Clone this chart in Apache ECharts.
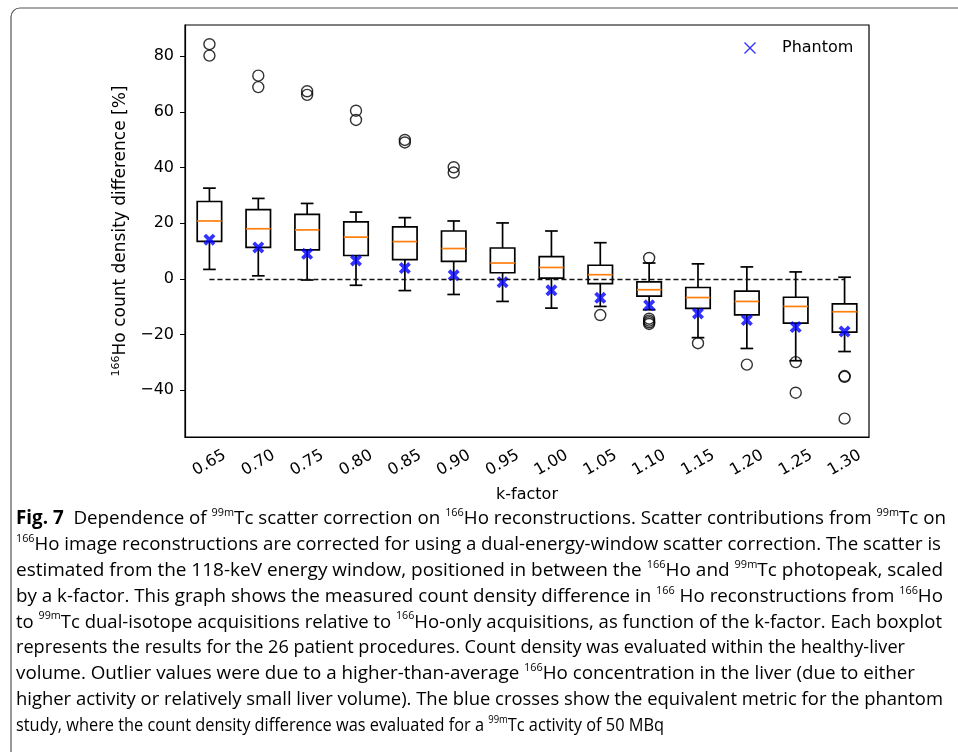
<!DOCTYPE html>
<html>
<head>
<meta charset="utf-8">
<script src="https://cdn.jsdelivr.net/npm/echarts@6/dist/echarts.min.js"></script>
<style>
  html, body { margin: 0; padding: 0; background: #fff; }
  #chart { width: 958px; height: 752px; }
</style>
</head>
<body>
<div id="chart"></div>
<script>
// k-factor categories
const categories = ['0.65', '0.70', '0.75', '0.80', '0.85', '0.90', '0.95',
  '1.00', '1.05', '1.10', '1.15', '1.20', '1.25', '1.30'];

// boxplot statistics (%)
const whiskerLow  = [3.4, 1.1, -0.4, -2.3, -4.2, -5.6, -8.1, -10.5, -9.9, -11.1, -21.1, -25.0, -29.4, -26.1];
const q1          = [13.5, 11.3, 10.4, 8.4, 6.9, 6.3, 2.2, 0.3, -1.7, -6.2, -10.6, -12.9, -15.9, -19.1];
const median      = [20.8, 18.0, 17.6, 15.0, 13.4, 10.9, 5.7, 4.1, 1.5, -3.9, -6.7, -8.1, -9.9, -11.8];
const q3          = [27.8, 24.9, 23.2, 20.5, 18.7, 17.2, 11.1, 8.0, 4.9, -1.1, -3.1, -4.4, -6.6, -9.0];
const whiskerHigh = [32.6, 28.9, 27.1, 24.0, 22.0, 20.8, 20.1, 17.2, 13.0, 5.7, 5.4, 4.3, 2.5, 0.6];

// outliers as [category index, value]
const outliers = [
  [0, 84.3], [0, 80.2], [1, 73.0], [1, 68.9], [2, 67.4], [2, 66.1],
  [3, 60.4], [3, 57.1], [4, 49.9], [4, 49.0], [5, 40.1], [5, 38.2],
  [8, -13.0], [9, 7.5], [9, -14.3], [9, -15.0], [9, -15.6], [9, -16.2],
  [10, -23.1], [11, -30.8], [12, -29.9], [12, -40.9],
  [13, -34.9], [13, -35.2], [13, -50.2]
];

// phantom study values (blue crosses)
const phantom = [14.1, 11.3, 9.0, 6.6, 3.9, 1.3, -1.2, -4.1, -6.8, -9.5, -12.4, -14.8, -17.3, -18.9];

const yTicks = [-40, -20, 0, 20, 40, 60, 80];

// X shapes drawn as filled paths (thick one for the marks, thin one for the legend)
const crossThick = 'path://M0,22L22,0L50,28L78,0L100,22L72,50L100,78L78,100L50,72L22,100L0,78L28,50Z';
const crossThin = 'path://M0,8L8,0L50,42L92,0L100,8L58,50L100,92L92,100L50,58L8,100L0,92L42,50Z';

const plotFont = 'DejaVu Sans';
const capFont = '"Open Sans", "Noto Sans", sans-serif';

const chart = echarts.init(document.getElementById('chart'));

// box + whiskers + caps + orange median, like matplotlib's boxplot
function renderBox(params, api) {
  const i = api.value(0);
  const band = api.size([1, 0])[0];
  const hw = band * 0.25, cw = band * 0.13;
  const pLow = api.coord([i, api.value(1)]);
  const pQ1 = api.coord([i, api.value(2)]);
  const pMed = api.coord([i, api.value(3)]);
  const pQ3 = api.coord([i, api.value(4)]);
  const pHigh = api.coord([i, api.value(5)]);
  const x = pMed[0];
  const ls = { stroke: '#000', lineWidth: 1.7, fill: null };
  return {
    type: 'group',
    children: [
      { type: 'line', shape: { x1: x, y1: pQ1[1], x2: x, y2: pLow[1] }, style: ls },
      { type: 'line', shape: { x1: x, y1: pQ3[1], x2: x, y2: pHigh[1] }, style: ls },
      { type: 'line', shape: { x1: x - cw, y1: pLow[1], x2: x + cw, y2: pLow[1] }, style: ls },
      { type: 'line', shape: { x1: x - cw, y1: pHigh[1], x2: x + cw, y2: pHigh[1] }, style: ls },
      { type: 'rect', shape: { x: x - hw, y: pQ3[1], width: hw * 2, height: pQ1[1] - pQ3[1] }, style: ls },
      { type: 'line', shape: { x1: x - hw, y1: pMed[1], x2: x + hw, y2: pMed[1] },
        style: { stroke: '#ff7f0e', lineWidth: 1.7 } }
    ]
  };
}

// caption lines: [style, text] pieces
const captionLines = [
  [['b', 'Fig. 7'], ['n', '  Dependence of '], ['s', '99m'], ['n', 'Tc scatter correction on '], ['s', '166'], ['n', 'Ho reconstructions. Scatter contributions from '], ['s', '99m'], ['n', 'Tc on']],
  [['s', '166'], ['n', 'Ho image reconstructions are corrected for using a dual-energy-window scatter correction. The scatter is']],
  [['n', 'estimated from the 118-keV energy window, positioned in between the '], ['s', '166'], ['n', 'Ho and '], ['s', '99m'], ['n', 'Tc photopeak, scaled']],
  [['n', 'by a k-factor. This graph shows the measured count density difference in '], ['s', '166'], ['n', ' Ho reconstructions from '], ['s', '166'], ['n', 'Ho']],
  [['n', 'to '], ['s', '99m'], ['n', 'Tc dual-isotope acquisitions relative to '], ['s', '166'], ['n', 'Ho-only acquisitions, as function of the k-factor. Each boxplot']],
  [['n', 'represents the results for the 26 patient procedures. Count density was evaluated within the healthy-liver']],
  [['n', 'volume. Outlier values were due to a higher-than-average '], ['s', '166'], ['n', 'Ho concentration in the liver (due to either']],
  [['n', 'higher activity or relatively small liver volume). The blue crosses show the equivalent metric for the phantom']],
  [['n', 'study, where the count density difference was evaluated for a '], ['s', '99m'], ['n', 'Tc activity of 50 MBq']]
];
// right end of each caption line in the figure
const captionRight = [946, 941, 943, 943, 942, 905, 915, 943, 664];

const capStyles = {
  n: { fontFamily: capFont, fontSize: 19, color: '#231f20', lineHeight: 23, verticalAlign: 'middle' },
  b: { fontFamily: capFont, fontSize: 19, fontWeight: 'bold', color: '#000', lineHeight: 23, verticalAlign: 'middle' },
  s: { fontFamily: capFont, fontSize: 11, color: '#231f20', lineHeight: 13, verticalAlign: 'top' }
};

const mctx = document.createElement('canvas').getContext('2d');
function lineWidth(pieces) {
  let w = 0;
  pieces.forEach(function (p) {
    const st = capStyles[p[0]];
    mctx.font = (st.fontWeight || 'normal') + ' ' + st.fontSize + 'px ' + st.fontFamily;
    w += mctx.measureText(p[1]).width;
  });
  return w;
}

const capLeft = 16, capTop = 519, capStep = 25.8;
const captionGraphics = captionLines.map(function (pieces, k) {
  return {
    type: 'text',
    x: capLeft, y: capTop + k * capStep,
    scaleX: (captionRight[k] - capLeft) / lineWidth(pieces),
    silent: true,
    style: {
      text: pieces.map(function (p) { return '{' + p[0] + '|' + p[1] + '}'; }).join(''),
      rich: capStyles,
      verticalAlign: 'middle'
    }
  };
});

const option = {
  animation: false,
  backgroundColor: '#fff',
  textStyle: { fontFamily: plotFont },
  grid: { left: 185, top: 25, width: 684, height: 412, show: true, borderColor: '#000', borderWidth: 1.2, outerBoundsMode: 'none' },
  legend: {
    left: 739, top: 35,
    padding: 5,
    data: [{ name: 'Phantom', icon: crossThin }],
    itemWidth: 12, itemHeight: 12,
    itemStyle: { color: '#0000ff' },
    textStyle: { fontFamily: plotFont, fontSize: 16, color: '#000', padding: [0, 0, 0, 21] }
  },
  xAxis: {
    type: 'category',
    data: categories,
    boundaryGap: true,
    name: 'k-factor',
    nameLocation: 'middle',
    nameGap: 50,
    nameTextStyle: { fontFamily: plotFont, fontSize: 16, color: '#000' },
    axisLine: { onZero: false, lineStyle: { color: '#000', width: 1.2 } },
    axisTick: { alignWithLabel: true, length: 5, lineStyle: { color: '#000', width: 1 } },
    axisLabel: { rotate: 30, align: 'center', verticalAlign: 'middle', margin: 26, fontSize: 16, color: '#000', fontFamily: plotFont },
    splitLine: { show: false }
  },
  yAxis: {
    type: 'value',
    min: -56.8, max: 91.2,
    name: '{s|166}{n|Ho count density difference [%]}',
    nameLocation: 'middle',
    nameGap: 49,
    nameRotate: 90,
    nameTextStyle: {
      rich: {
        n: { fontFamily: plotFont, fontSize: 17, color: '#000', lineHeight: 20, verticalAlign: 'middle' },
        s: { fontFamily: plotFont, fontSize: 11, color: '#000', lineHeight: 11, verticalAlign: 'top' }
      }
    },
    axisLine: { show: true, onZero: false, lineStyle: { color: '#000', width: 1.2 } },
    axisTick: { show: true, length: 5, customValues: yTicks, lineStyle: { color: '#000', width: 1 } },
    axisLabel: {
      customValues: yTicks, margin: 11, fontSize: 16, color: '#000', fontFamily: plotFont,
      formatter: function (v) { return v < 0 ? '\u2212' + Math.abs(v) : String(v); }
    },
    splitLine: { show: false }
  },
  graphic: [
    { type: 'rect', shape: { x: 11, y: 8, width: 1000, height: 800, r: 9 }, style: { fill: null, stroke: '#555', lineWidth: 1.2 }, silent: true }
  ].concat(captionGraphics),
  series: [
    {
      name: 'boxes',
      type: 'custom',
      renderItem: renderBox,
      encode: { x: 0, y: [1, 2, 3, 4, 5] },
      data: categories.map(function (c, i) { return [i, whiskerLow[i], q1[i], median[i], q3[i], whiskerHigh[i]]; }),
      z: 2
    },
    {
      name: 'outliers',
      type: 'scatter',
      symbol: 'circle',
      symbolSize: 11,
      itemStyle: { color: 'rgba(0,0,0,0)', borderColor: '#000', borderWidth: 1.4 },
      data: outliers,
      z: 3
    },
    {
      name: 'Phantom',
      type: 'scatter',
      symbol: crossThick,
      symbolSize: 12,
      itemStyle: { color: '#0000ff' },
      data: phantom.map(function (v, i) { return [i, v]; }),
      z: 4,
      markLine: {
        silent: true,
        symbol: 'none',
        label: { show: false },
        lineStyle: { color: '#111', width: 1.3, type: [5, 3] },
        data: [[{ coord: [0, 0] }, { coord: [categories.length - 1, 0] }]]
      }
    }
  ]
};

chart.setOption(option);
</script>
</body>
</html>
